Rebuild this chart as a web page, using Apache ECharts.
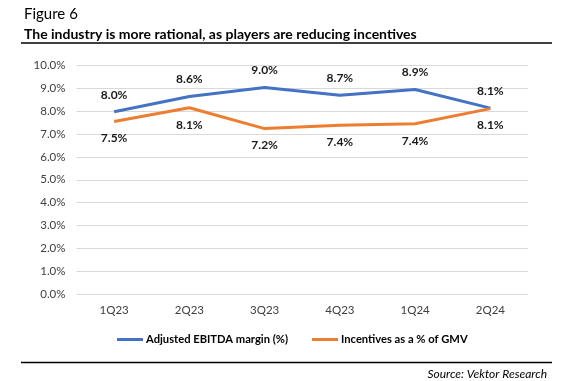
<!DOCTYPE html>
<html><head><meta charset="utf-8">
<script src="https://cdn.jsdelivr.net/npm/echarts@6/dist/echarts.min.js"></script>
<style>html,body{margin:0;padding:0;background:#fff}#c{width:569px;height:381px}</style>
</head><body><div id="c"></div>
<script>
const categories = ['1Q23','2Q23','3Q23','4Q23','1Q24','2Q24'];
const ebitdaMargin = [7.96, 8.63, 9.02, 8.68, 8.93, 8.12];
const incentives = [7.54, 8.14, 7.23, 7.38, 7.44, 8.10];
const seriesNames = ['Adjusted EBITDA margin (%)', 'Incentives as a % of GMV'];
const FONT = 'Lato';
const chart = echarts.init(document.getElementById('c'), null, {renderer:'canvas'});
const lbl = p => p.value.toFixed(1) + '%';
chart.setOption({
  animation:false,
  textStyle:{fontFamily:FONT},
  grid:{left:76.5, right:41, top:65, bottom:86.5, containLabel:false},
  graphic:[
    {type:'text', left:24, top:7, style:{text:'Figure 6', font:'15px '+FONT, fill:'#000'}},
    {type:'text', left:24, top:27, style:{text:'The industry is more rational, as players are reducing incentives', font:'bold 14px '+FONT, fill:'#000'}},
    {type:'line', shape:{x1:21,y1:43,x2:552,y2:43}, style:{stroke:'#000', lineWidth:1.3}},
    {type:'line', shape:{x1:21,y1:362.5,x2:552,y2:362.5}, style:{stroke:'#000', lineWidth:1.3}},
    {type:'text', right:22, top:368, style:{text:'Source: Vektor Research', font:'italic 12px '+FONT, fill:'#000'}}
  ],
  legend:{
    left:112, top:329, itemWidth:26, itemHeight:3, itemGap:24, icon:'rect',
    textStyle:{fontFamily:FONT, fontSize:11.2, fontWeight:'bold', color:'#000', padding:[0,0,0,-2]},
    data:seriesNames
  },
  xAxis:{
    type:'category', data:categories, boundaryGap:true,
    axisLine:{show:false}, axisTick:{show:false},
    axisLabel:{color:'#404040', fontSize:11.5, margin:10, fontFamily:FONT}
  },
  yAxis:{
    type:'value', min:0, max:10, interval:1,
    axisLine:{show:false}, axisTick:{show:false},
    splitLine:{lineStyle:{color:'#d9d9d9', width:1}},
    axisLabel:{color:'#404040', fontSize:11.5, margin:11, fontFamily:FONT, formatter:v=>v.toFixed(1)+'%'}
  },
  series:[
    {name:seriesNames[0], type:'line', data:ebitdaMargin, symbol:'circle', symbolSize:0, showSymbol:true,
     lineStyle:{color:'#4472C4', width:3}, itemStyle:{color:'#4472C4'},
     label:{show:true, position:'top', distance:11, formatter:lbl, fontWeight:'bold', fontSize:12, color:'#1a1a1a', fontFamily:FONT}},
    {name:seriesNames[1], type:'line', data:incentives, symbol:'circle', symbolSize:0, showSymbol:true,
     lineStyle:{color:'#ED7D31', width:3}, itemStyle:{color:'#ED7D31'},
     label:{show:true, position:'bottom', distance:11, formatter:lbl, fontWeight:'bold', fontSize:12, color:'#1a1a1a', fontFamily:FONT}}
  ]
});
</script></body></html>
